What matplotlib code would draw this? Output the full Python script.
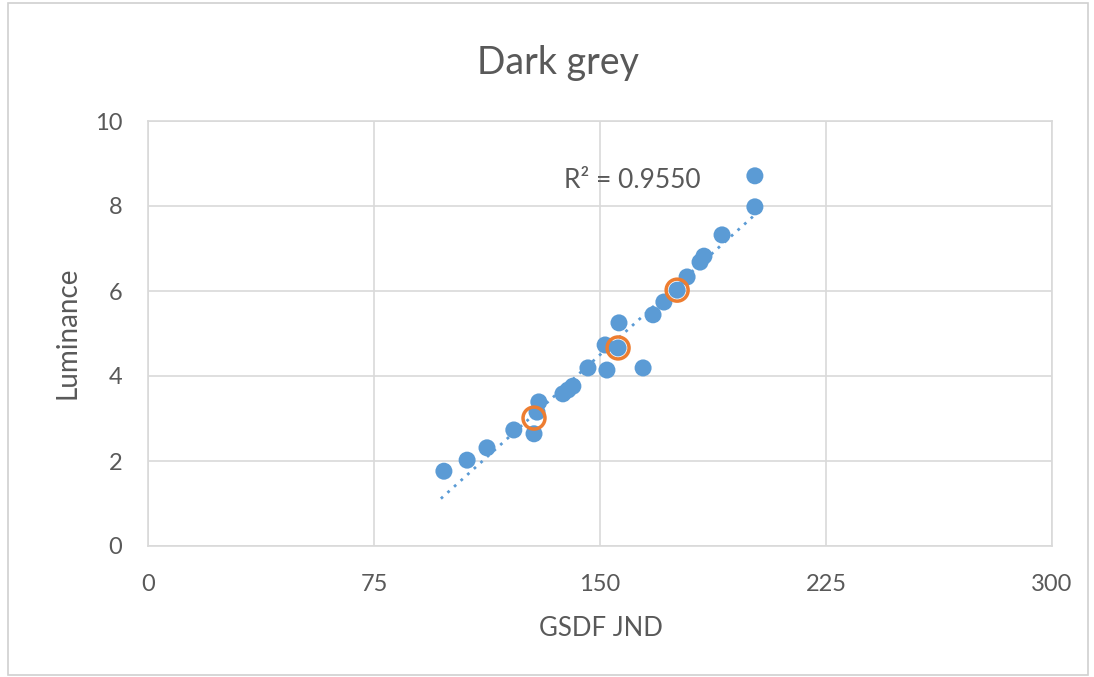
import matplotlib
matplotlib.use("Agg")
import matplotlib.pyplot as plt
import numpy as np
from matplotlib.patches import Rectangle

plt.rcParams['font.family'] = ['Lato', 'DejaVu Sans']

# Blue series (GSDF JND vs Luminance)
jnd = [98.2, 105.9, 112.5, 121.4, 128.1, 129.7, 129.1, 137.7, 139.4, 141.0,
       146.0, 152.3, 164.3, 151.7, 156.0, 156.3, 167.6, 171.2, 175.6, 178.9,
       183.2, 184.5, 190.5, 201.4, 201.4]
lum = [1.76, 2.02, 2.31, 2.73, 2.64, 3.39, 3.15, 3.58, 3.67, 3.76,
       4.19, 4.14, 4.19, 4.73, 4.66, 5.25, 5.44, 5.74, 6.02, 6.33,
       6.68, 6.82, 7.32, 7.98, 8.71]

# Highlighted (orange hollow) points
hl_jnd = [128.1, 156.0, 175.6]
hl_lum = [3.01, 4.66, 6.02]

title = "Dark grey"
xlabel = "GSDF JND"
ylabel = "Luminance"
r2_text = "R² = 0.9550"
xticks = [0, 75, 150, 225, 300]
yticks = [0, 2, 4, 6, 8, 10]

blue = "#5B9BD5"
orange = "#ED7D31"
grid = "#D9D9D9"
txt = "#595959"

fig = plt.figure(figsize=(10.94, 6.77), dpi=100)
fig.patch.set_facecolor("white")
fig.patches.append(Rectangle((8/1094, 2/677), 1080/1094, 672/677, transform=fig.transFigure,
                             fill=False, edgecolor="#D0D0D0", linewidth=1.2))

ax = fig.add_axes([148/1094, 1 - 546/677, (1052-148)/1094, (546-121)/677])
ax.set_xlim(0, 300)
ax.set_ylim(0, 10)
ax.set_xticks(xticks)
ax.set_yticks(yticks)
ax.grid(True, color=grid, linewidth=1.2)
ax.set_axisbelow(True)
for s in ax.spines.values():
    s.set_color(grid)
    s.set_linewidth(1.2)
ax.tick_params(length=0, labelsize=17, colors=txt)
ax.tick_params(axis='y', pad=18.5)
ax.tick_params(axis='x', pad=20)

# Trendline (linear fit)
coef = np.polyfit(jnd, lum, 1)
xt = np.array([min(jnd) - 1, max(jnd)])
ax.plot(xt, np.polyval(coef, xt), linestyle=(0, (1, 2.2)), color=blue, linewidth=2, zorder=2)

ax.scatter(jnd, lum, s=150, color=blue, edgecolors="none", zorder=3)
ax.scatter(hl_jnd, hl_lum, s=250, facecolors="none", edgecolors=orange, linewidths=2.5, zorder=4)

ax.text(138, 8.6, r2_text, fontsize=19, color=txt, ha="left", va="center")

fig.text(558/1094, 1 - 63/677, title, fontsize=27, color=txt, ha="center", va="center")
fig.text(601/1094, 1 - 628/677, xlabel, fontsize=18.5, color=txt, ha="center", va="center")
fig.text(68/1094, 1 - 333/677, ylabel, fontsize=20, color=txt, ha="center", va="center", rotation=90)

fig.savefig("out.png", dpi=100)
